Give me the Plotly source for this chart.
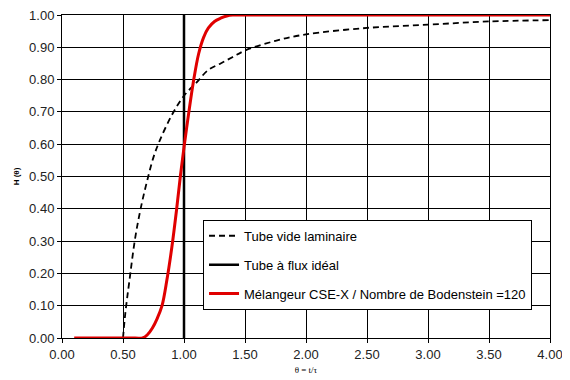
import plotly.graph_objects as go

# Laminar empty tube
lam_theta = [0.50, 0.52, 0.55, 0.60, 0.65, 0.70, 0.75, 0.80, 0.90, 1.00, 1.10, 1.20,
             1.30, 1.40, 1.50, 1.75, 2.00, 2.50, 3.00, 3.50, 4.00]
lam_H = [0.00, 0.08, 0.17, 0.31, 0.41, 0.49, 0.56, 0.61, 0.69, 0.75, 0.79, 0.83,
         0.85, 0.87, 0.89, 0.92, 0.94, 0.96, 0.97, 0.98, 0.984]

# Ideal plug flow tube
plug_theta = [1.0, 1.0]
plug_H = [0.0, 1.0]

# CSE-X mixer, Bo = 120
cse_theta = [0.10, 0.60, 0.66, 0.70, 0.74, 0.78, 0.82, 0.86, 0.90, 0.94, 0.97, 1.00,
             1.04, 1.08, 1.12, 1.16, 1.20, 1.25, 1.30, 1.35, 1.40, 1.50, 4.00]
cse_H = [0.00, 0.00, 0.00, 0.01, 0.03, 0.06, 0.10, 0.18, 0.28, 0.40, 0.50, 0.59,
         0.70, 0.80, 0.88, 0.93, 0.96, 0.98, 0.99, 0.997, 1.00, 1.00, 1.00]

names = ["Tube vide laminaire", "Tube à flux idéal",
         "Mélangeur CSE-X / Nombre de Bodenstein =120"]

x_ticks = [0.0, 0.5, 1.0, 1.5, 2.0, 2.5, 3.0, 3.5, 4.0]
y_ticks = [0.0, 0.1, 0.2, 0.3, 0.4, 0.5, 0.6, 0.7, 0.8, 0.9, 1.0]

fig = go.Figure()
fig.add_trace(go.Scatter(x=lam_theta, y=lam_H, mode="lines", name=names[0],
                         legendgroup="a", line=dict(color="black", width=1.8, dash="6px,4px"),
                         line_shape="spline"))
fig.add_trace(go.Scatter(x=plug_theta, y=plug_H, mode="lines", name=names[1],
                         legendgroup="b", line=dict(color="black", width=2.5)))
fig.add_trace(go.Scatter(x=cse_theta, y=cse_H, mode="lines", name=names[2],
                         legendgroup="c", line=dict(color="#e00000", width=3),
                         line_shape="spline"))

axis_common = dict(showgrid=True, gridcolor="black", gridwidth=1,
                   showline=True, linecolor="black", linewidth=1, mirror=True,
                   ticks="outside", ticklen=4, tickcolor="black",
                   tickformat=".2f", zeroline=False, automargin=False,
                   ticklabeloverflow="allow",
                   tickfont=dict(family="Liberation Sans, Arial", size=13, color="#222"))

fig.update_xaxes(range=[0, 4], tickvals=x_ticks, **axis_common,
                 title=dict(text="θ = t/τ", font=dict(family="Liberation Serif", size=9, color="black"),
                            standoff=6))
fig.update_yaxes(range=[0, 1], tickvals=y_ticks, **axis_common,
                 title=dict(text="<b>H (θ)</b>", font=dict(family="Liberation Sans", size=8, color="black"),
                            standoff=8))

fig.update_layout(
    width=562, height=372,
    margin=dict(l=54, r=20, t=7, b=42),
    plot_bgcolor="white", paper_bgcolor="white",
    showlegend=True,
    legend=dict(x=0.289, y=0.366, xanchor="left", yanchor="top",
                bgcolor="white", bordercolor="black", borderwidth=1,
                font=dict(family="Liberation Sans, Arial", size=13, color="black"),
                tracegroupgap=9, traceorder="grouped", entrywidth=335),
)

fig.write_html("out.html")
